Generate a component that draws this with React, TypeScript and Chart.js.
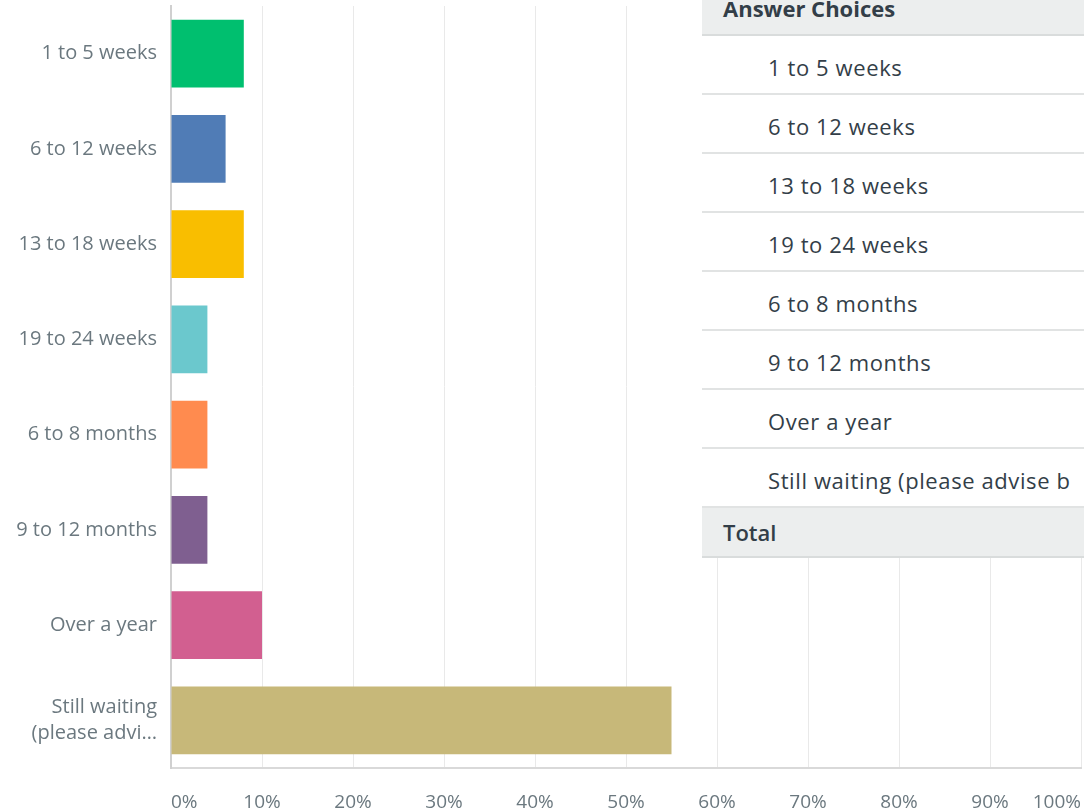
import React, { useEffect, useRef } from "react";
import { Chart, registerables } from "chart.js";

Chart.register(...registerables);

const categories: (string | string[])[] = [
  "1 to 5 weeks",
  "6 to 12 weeks",
  "13 to 18 weeks",
  "19 to 24 weeks",
  "6 to 8 months",
  "9 to 12 months",
  "Over a year",
  ["Still waiting", "(please advi…"],
];
const percentages = [8, 6, 8, 4, 4, 4, 10, 55];
const barColors = [
  "#00bf6f",
  "#507cb6",
  "#f9be00",
  "#6bc8cd",
  "#ff8b4f",
  "#7f5f90",
  "#d25f90",
  "#c7b879",
];
const xTicks = [0, 10, 20, 30, 40, 50, 60, 70, 80, 90, 100];

const tableRows = [
  "1 to 5 weeks",
  "6 to 12 weeks",
  "13 to 18 weeks",
  "19 to 24 weeks",
  "6 to 8 months",
  "9 to 12 months",
  "Over a year",
  "Still waiting (please advise b",
];

const FONT = "'Open Sans', 'Noto Sans', sans-serif";

export default function App() {
  const ref = useRef<HTMLCanvasElement | null>(null);

  useEffect(() => {
    if (!ref.current) return;
    const chart = new Chart(ref.current, {
      type: "bar",
      data: {
        labels: categories,
        datasets: [
          {
            data: percentages,
            backgroundColor: barColors,
            borderWidth: 0,
            barPercentage: 0.71,
            categoryPercentage: 1,
          },
        ],
      },
      options: {
        indexAxis: "y",
        animation: false,
        responsive: false,
        devicePixelRatio: 1,
        layout: { padding: { top: 6, right: 3, left: 0, bottom: 0 } },
        plugins: { legend: { display: false }, tooltip: { enabled: false } },
        scales: {
          x: {
            min: 0,
            max: 100,
            afterBuildTicks: (scale: any) => {
              scale.ticks = xTicks.map((v) => ({ value: v }));
            },
            afterFit: (scale: any) => {
              scale.height = 44;
              scale.paddingLeft = 0;
              scale.paddingRight = 0;
            },
            grid: { color: "#e9e9e9", lineWidth: 1, drawTicks: false },
            border: { color: "#d9d9d9", width: 2 },
            ticks: {
              align: "inner",
              padding: 23,
              color: "#6b787f",
              font: { family: FONT, size: 19 },
              callback: (v: any) => v + "%",
            },
          },
          y: {
            afterFit: (scale: any) => {
              scale.width = 171;
              scale.paddingTop = 0;
              scale.paddingBottom = 0;
            },
            grid: { display: false, drawTicks: false },
            border: { color: "#d0d0d0", width: 2 },
            ticks: {
              padding: 14,
              color: "#6b787f",
              font: { family: FONT, size: 20, lineHeight: 1.3 },
            },
          },
        },
      },
    });
    return () => chart.destroy();
  }, []);

  const rowTop = 36;
  const rowH = 59;

  return (
    <div
      style={{
        position: "absolute",
        left: 0,
        top: 0,
        width: 1084,
        height: 812,
        overflow: "hidden",
        background: "#fff",
      }}
    >
      <canvas ref={ref} width={1084} height={812} style={{ display: "block" }} />
      <div
        style={{
          position: "absolute",
          left: 702,
          top: 0,
          width: 382,
          height: 558,
          background: "#fff",
          overflow: "hidden",
          fontFamily: FONT,
          color: "#333e48",
          whiteSpace: "nowrap",
        }}
      >
        <div
          style={{
            position: "absolute",
            left: 0,
            top: -20,
            width: 382,
            height: 54,
            background: "#eceeee",
            borderBottom: "2px solid #d9dcdc",
          }}
        >
          <div
            style={{
              position: "absolute",
              left: 21,
              top: 13,
              fontSize: 22,
              fontWeight: 700,
              lineHeight: "30px",
            }}
          >
            Answer Choices
          </div>
        </div>
        {tableRows.map((r, i) => (
          <div
            key={i}
            style={{
              position: "absolute",
              left: 0,
              top: rowTop + i * rowH,
              width: 382,
              height: rowH - 2,
              borderBottom: "2px solid #e1e3e3",
            }}
          >
            <div
              style={{
                position: "absolute",
                left: 66,
                top: 15,
                fontSize: 22,
                fontWeight: 500,
                lineHeight: "32px",
                letterSpacing: 0.6,
                color: "#333e48",
              }}
            >
              {r}
            </div>
          </div>
        ))}
        <div
          style={{
            position: "absolute",
            left: 0,
            top: rowTop + tableRows.length * rowH,
            width: 382,
            height: 556 - (rowTop + tableRows.length * rowH),
            background: "#eceeee",
            borderBottom: "2px solid #d9dcdc",
          }}
        >
          <div
            style={{
              position: "absolute",
              left: 21,
              top: 8,
              fontSize: 22,
              fontWeight: 600,
              lineHeight: "32px",
            }}
          >
            Total
          </div>
        </div>
      </div>
    </div>
  );
}
